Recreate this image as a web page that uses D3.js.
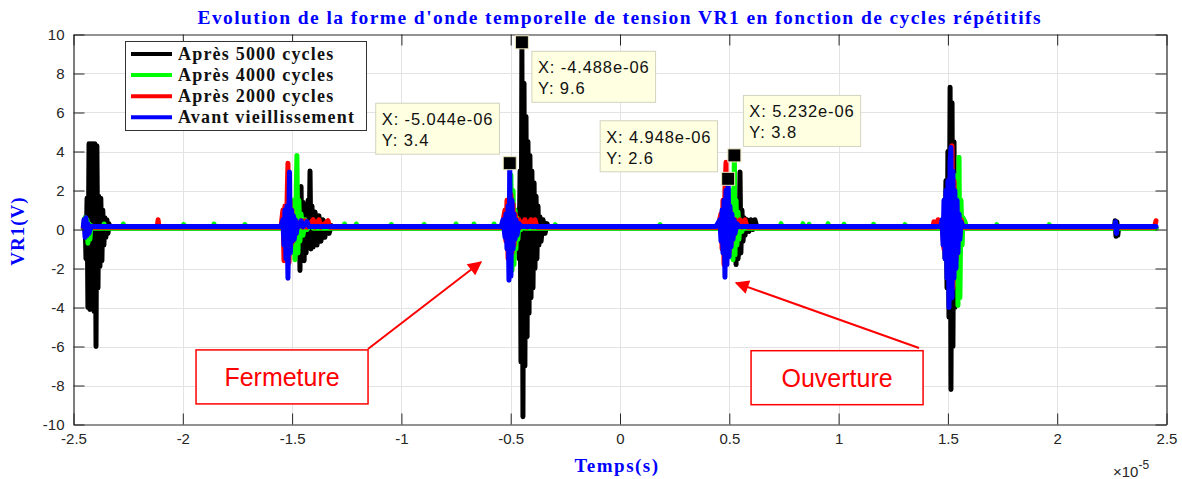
<!DOCTYPE html>
<html>
<head>
<meta charset="utf-8">
<script src="https://cdn.jsdelivr.net/npm/d3@7"></script>
<style>
  body { margin: 0; background: #fff; }
</style>
</head>
<body>
<svg id="chart" width="1182" height="479"></svg>
<script>
// time in units of 1e-5 s, voltage in V

var xTicks = [-2.5, -2, -1.5, -1, -0.5, 0, 0.5, 1, 1.5, 2, 2.5];
var yTicks = [-10, -8, -6, -4, -2, 0, 2, 4, 6, 8, 10];

var seriesNames = ["Après 5000 cycles", "Après 4000 cycles", "Après 2000 cycles", "Avant vieillissement"];

var apres5000 = [
  [-2.455,0.08],[-2.447,0.6],[-2.443,-1.5],[-2.438,1.6],[-2.434,-4.0],[-2.429,4.4],[-2.425,-4.1],[-2.420,4.4],
  [-2.416,-4.0],[-2.411,4.4],[-2.406,-4.2],[-2.402,4.4],[-2.397,-6.0],[-2.393,4.3],[-2.388,-3.0],[-2.384,1.7],
  [-2.379,-1.9],[-2.375,1.6],[-2.370,-1.6],[-2.366,1.0],[-2.361,-0.8],[-2.356,0.6],[-2.352,-0.4],[-2.347,0.5],
  [-2.342,-0.2],[-2.338,0.3],[-2.333,0.08],
  [-1.487,0.08],[-1.478,1.0],[-1.473,-0.8],[-1.469,2.0],[-1.464,-2.1],[-1.459,2.2],[-1.455,-1.6],[-1.450,1.4],
  [-1.445,-1.6],[-1.441,1.0],[-1.436,-1.2],[-1.427,1.5],[-1.423,-0.8],[-1.418,3.0],[-1.414,-1.0],[-1.409,1.2],
  [-1.404,-0.9],[-1.395,0.9],[-1.386,-0.8],[-1.377,0.7],[-1.368,-0.6],[-1.359,0.5],[-1.350,-0.4],[-1.340,0.4],
  [-1.331,-0.2],[-1.320,0.2],[-1.310,0.08],
  [-0.476,0.08],[-0.467,1.0],[-0.462,-1.5],[-0.457,3.0],[-0.453,-6.8],[-0.4488,9.6],[-0.444,-9.6],[-0.439,7.5],
  [-0.435,-7.0],[-0.430,5.8],[-0.425,-5.5],[-0.421,4.5],[-0.416,-4.3],[-0.412,3.8],[-0.407,-3.5],[-0.403,3.0],
  [-0.398,-3.0],[-0.393,2.4],[-0.389,-2.0],[-0.384,1.7],[-0.380,-1.5],[-0.375,1.2],[-0.371,-0.8],[-0.366,0.65],
  [-0.361,-0.6],[-0.352,0.5],[-0.343,-0.2],[-0.334,0.3],[-0.325,0.08],
  [0.508,0.08],[0.517,0.6],[0.522,-0.8],[0.526,1.2],[0.531,-1.8],[0.535,1.5],[0.540,-1.5],[0.544,-1.0],
  [0.549,2.95],[0.553,-1.2],[0.558,1.0],[0.563,-0.6],[0.568,0.6],[0.572,-0.3],[0.581,0.5],[0.590,-0.1],
  [0.599,0.5],[0.608,0.0],[0.617,0.5],[0.627,0.08],
  [1.473,0.08],[1.482,0.6],[1.487,-1.5],[1.491,2.5],[1.496,-3.0],[1.500,4.0],[1.505,-4.5],[1.510,7.3],
  [1.514,-8.2],[1.519,6.5],[1.523,-6.0],[1.528,4.5],[1.532,-4.0],[1.537,2.0],[1.542,-1.5],[1.546,1.0],
  [1.551,-0.6],[1.555,0.6],[1.560,-0.2],[1.569,0.08],
  [2.262,0.08],[2.265,0.45],[2.269,-0.35],[2.273,0.4],[2.277,-0.3],[2.281,0.08],[2.452,0.08]
];

var apres4000 = [
  [-2.455,0.07],[-2.447,0.6],[-2.443,-0.3],[-2.438,0.5],[-2.434,-0.7],[-2.429,0.3],[-2.425,-0.5],[-2.420,0.2],[-2.411,0.07],
  [-2.364,0.07],[-2.360,0.28],[-2.356,0.07],
  [-2.276,0.07],[-2.272,0.28],[-2.268,0.07],
  [-2.000,0.07],[-1.996,0.26],[-1.992,0.07],
  [-1.861,0.07],[-1.857,0.28],[-1.853,0.07],
  [-1.720,0.07],[-1.716,0.26],[-1.712,0.07],
  [-1.551,0.07],[-1.533,0.5],[-1.524,-0.5],[-1.514,1.0],[-1.505,-1.0],[-1.496,1.5],[-1.487,-1.55],[-1.478,3.8],
  [-1.473,-1.2],[-1.469,1.5],[-1.464,-0.6],[-1.459,0.8],[-1.450,-0.3],[-1.441,0.5],[-1.432,0.0],[-1.414,0.3],[-1.404,0.07],
  [-1.264,0.07],[-1.260,0.28],[-1.256,0.07],
  [-1.210,0.07],[-1.206,0.28],[-1.202,0.07],
  [-1.050,0.07],[-1.046,0.26],[-1.042,0.07],
  [-0.900,0.07],[-0.896,0.26],[-0.892,0.07],
  [-0.754,0.07],[-0.750,0.28],[-0.746,0.07],
  [-0.672,0.07],[-0.668,0.28],[-0.664,0.07],
  [-0.580,0.07],[-0.576,0.28],[-0.572,0.07],
  [-0.535,0.07],[-0.522,0.5],[-0.512,-0.8],[-0.508,1.5],[-0.503,-1.6],[-0.499,2.8],[-0.494,-2.1],[-0.489,2.0],
  [-0.485,-1.8],[-0.480,1.0],[-0.476,-1.0],[-0.471,0.6],[-0.467,-0.5],[-0.462,0.4],[-0.453,0.0],[-0.444,0.2],[-0.435,0.07],
  [-0.300,0.07],[-0.296,0.25],[-0.292,0.07],
  [0.180,0.07],[0.184,0.25],[0.188,0.07],
  [0.462,0.07],[0.476,0.6],[0.485,-0.8],[0.494,1.2],[0.499,-1.2],[0.503,1.8],[0.508,-1.3],[0.512,2.0],
  [0.517,-1.55],[0.5232,3.8],[0.526,-1.3],[0.531,1.5],[0.535,-0.8],[0.540,0.9],[0.544,-0.5],[0.549,0.5],
  [0.558,-0.1],[0.563,0.3],[0.572,0.07],
  [0.733,0.07],[0.737,0.3],[0.741,0.07],
  [0.833,0.07],[0.837,0.3],[0.841,0.07],
  [0.861,0.07],[0.865,0.27],[0.869,0.07],
  [0.948,0.07],[0.952,0.3],[0.956,0.07],
  [1.021,0.07],[1.025,0.27],[1.029,0.07],
  [1.156,0.07],[1.160,0.27],[1.164,0.07],
  [1.300,0.07],[1.304,0.25],[1.308,0.07],
  [1.478,0.07],[1.491,1.0],[1.500,-1.5],[1.510,2.5],[1.519,-3.0],[1.528,2.8],[1.537,-2.8],[1.542,2.5],
  [1.546,-3.9],[1.551,3.7],[1.555,-3.5],[1.560,1.5],[1.565,-0.8],[1.569,0.6],[1.578,0.4],[1.587,0.07],
  [1.720,0.07],[1.724,0.25],[1.728,0.07],
  [1.960,0.07],[1.964,0.25],[1.968,0.07],
  [2.452,0.07]
];

var apres2000 = [
  [-2.455,0.12],[-2.445,0.4],[-2.440,-0.2],[-2.436,0.12],
  [-2.117,0.12],[-2.113,0.5],[-2.109,0.12],
  [-1.551,0.12],[-1.542,1.0],[-1.537,-1.6],[-1.533,1.2],[-1.528,-1.2],[-1.524,1.0],[-1.519,3.4],[-1.514,-1.7],
  [-1.510,1.5],[-1.505,-0.8],[-1.501,1.0],[-1.496,-0.6],[-1.492,0.6],[-1.487,-0.3],[-1.482,0.4],[-1.473,0.12],
  [-1.459,0.45],[-1.450,0.12],[-1.441,0.45],[-1.432,0.12],[-1.404,0.5],[-1.395,0.12],[-1.377,0.5],[-1.368,0.12],
  [-1.336,0.45],[-1.327,0.12],
  [-0.540,0.12],[-0.526,1.0],[-0.522,-0.6],[-0.517,1.5],[-0.512,-1.5],[-0.508,1.4],[-0.503,-1.8],[-0.499,1.8],
  [-0.494,-1.2],[-0.489,1.3],[-0.485,-0.8],[-0.480,0.8],[-0.471,0.3],[-0.462,0.5],[-0.453,0.12],[-0.435,0.5],
  [-0.425,0.12],[-0.407,0.5],[-0.398,0.12],[-0.389,0.5],[-0.380,0.12],
  [0.448,0.12],[0.462,0.8],[0.467,-1.0],[0.471,1.5],[0.476,-1.8],[0.480,2.0],[0.485,3.45],[0.489,-1.5],
  [0.494,1.5],[0.499,-1.2],[0.503,1.0],[0.508,-0.8],[0.512,0.6],[0.517,-0.4],[0.526,0.5],[0.535,0.12],
  [0.549,0.5],[0.558,0.12],[0.572,0.5],[0.581,0.12],
  [1.432,0.12],[1.436,0.4],[1.440,0.12],
  [1.446,0.12],[1.455,0.5],[1.464,0.12],[1.473,0.4],[1.482,-1.0],[1.491,1.5],[1.500,-2.0],[1.505,2.5],
  [1.510,-3.5],[1.519,4.3],[1.523,-3.0],[1.528,2.5],[1.537,-1.5],[1.546,0.8],[1.555,-0.3],[1.560,0.5],[1.569,0.12],
  [2.445,0.12],[2.452,0.45]
];

var avantVieillissement = [
  [-2.455,0.15],[-2.452,0.5],[-2.447,-0.4],[-2.443,0.6],[-2.438,-0.3],[-2.434,0.3],[-2.429,-0.2],[-2.420,0.15],
  [-1.551,0.15],[-1.542,0.5],[-1.537,-0.8],[-1.533,1.0],[-1.528,-1.5],[-1.524,1.2],[-1.519,-2.5],[-1.512,2.95],
  [-1.508,-1.2],[-1.503,1.0],[-1.499,-0.6],[-1.494,0.7],[-1.490,-0.5],[-1.485,0.5],[-1.480,-0.2],[-1.476,0.3],
  [-1.469,0.15],[-1.459,0.45],[-1.450,0.15],[-1.432,0.4],[-1.423,0.15],
  [-0.544,0.15],[-0.535,0.5],[-0.526,-0.4],[-0.522,0.8],[-0.517,-1.0],[-0.512,1.2],[-0.508,-2.6],[-0.5044,3.4],
  [-0.499,-2.4],[-0.494,1.5],[-0.489,-1.0],[-0.485,0.8],[-0.480,-0.5],[-0.476,0.5],[-0.471,-0.3],[-0.462,0.3],[-0.453,0.15],
  [0.439,0.15],[0.457,0.5],[0.462,-0.6],[0.467,1.0],[0.471,-1.2],[0.476,1.5],[0.480,-2.45],[0.485,2.0],
  [0.489,-1.8],[0.4948,2.6],[0.499,-1.4],[0.503,1.2],[0.508,-0.9],[0.512,0.8],[0.517,-0.5],[0.522,0.5],
  [0.526,-0.2],[0.535,0.3],[0.544,0.15],
  [1.468,0.15],[1.473,0.5],[1.478,-0.8],[1.482,1.5],[1.487,-1.5],[1.491,2.0],[1.496,-2.5],[1.500,2.5],
  [1.505,-4.0],[1.510,3.5],[1.514,4.2],[1.519,-3.5],[1.523,3.0],[1.528,-2.5],[1.532,2.0],[1.537,-2.0],
  [1.542,1.5],[1.546,-1.2],[1.551,0.8],[1.555,-0.5],[1.560,0.4],[1.569,0.15],
  [2.264,0.15],[2.267,0.4],[2.271,-0.2],[2.275,0.15],
  [2.452,0.15]
];

// data cursors (seconds, volts)
var cursorT = [-5.044e-6, -4.488e-6, 4.948e-6, 5.232e-6];
var cursorV = [3.4, 9.6, 2.6, 3.8];

var annotLabels = ["Fermeture", "Ouverture"];

var colors = ["#000000", "#00ff00", "#ff0000", "#0000ff"];
var allSeries = [apres5000, apres4000, apres2000, avantVieillissement];

var sans = "'Liberation Sans', Arial, sans-serif";
var serif = "'Liberation Serif', 'Times New Roman', serif";

var svg = d3.select("#chart").attr("font-family", sans);

var x = d3.scaleLinear().domain([-2.5, 2.5]).range([73.5, 1166.5]);
var y = d3.scaleLinear().domain([-10, 10]).range([424.5, 34.5]);

var axisColor = "#262626";

// grid
var grid = svg.append("g").attr("stroke", "#e3e3e3").attr("stroke-width", 1);
grid.selectAll(".gx").data(xTicks.slice(1, -1)).join("line")
  .attr("x1", d => Math.round(x(d)) + 0.5).attr("x2", d => Math.round(x(d)) + 0.5)
  .attr("y1", y(10)).attr("y2", y(-10));
grid.selectAll(".gy").data(yTicks.slice(1, -1)).join("line")
  .attr("x1", x(-2.5)).attr("x2", x(2.5))
  .attr("y1", d => Math.round(y(d)) + 0.5).attr("y2", d => Math.round(y(d)) + 0.5);

// signals
svg.append("clipPath").attr("id", "plotclip").append("rect")
  .attr("x", x(-2.5)).attr("y", y(10))
  .attr("width", x(2.5) - x(-2.5)).attr("height", y(-10) - y(10));

var line = d3.line().x(d => x(d[0])).y(d => y(d[1]));

svg.append("g").attr("clip-path", "url(#plotclip)")
  .selectAll("path").data(allSeries).join("path")
  .attr("d", line)
  .attr("fill", "none")
  .attr("stroke", (d, i) => colors[i])
  .attr("stroke-width", 5)
  .attr("stroke-linejoin", "round")
  .attr("stroke-linecap", "round");

// axes (box on, ticks inside)
function styleAxis(g) {
  g.selectAll("path, line").attr("stroke", axisColor);
  g.selectAll("text").attr("fill", axisColor)
    .attr("font-family", sans).attr("font-size", 15);
}
var fmt = d => String(d);

svg.append("g").attr("transform", "translate(0," + y(-10) + ")")
  .call(d3.axisBottom(x).tickValues(xTicks).tickFormat(fmt).tickSize(-11).tickSizeOuter(0).tickPadding(9))
  .call(styleAxis);
svg.append("g").attr("transform", "translate(0," + y(10) + ")")
  .call(d3.axisTop(x).tickValues(xTicks).tickFormat("").tickSize(-11).tickSizeOuter(0))
  .call(styleAxis);
svg.append("g").attr("transform", "translate(" + x(-2.5) + ",0)")
  .call(d3.axisLeft(y).tickValues(yTicks).tickFormat(fmt).tickSize(-11).tickSizeOuter(0).tickPadding(9))
  .call(styleAxis);
svg.append("g").attr("transform", "translate(" + x(2.5) + ",0)")
  .call(d3.axisRight(y).tickValues(yTicks).tickFormat("").tickSize(-11).tickSizeOuter(0))
  .call(styleAxis);
svg.selectAll(".domain").attr("stroke-width", 1.2);

// exponent label
var expo = svg.append("text").attr("x", 1113).attr("y", 477)
  .attr("fill", axisColor).attr("font-size", 15);
expo.append("tspan").text("×10");
expo.append("tspan").attr("dy", -8).attr("font-size", 12).text("-5");

// titles
svg.append("text").attr("x", 619).attr("y", 24)
  .attr("text-anchor", "middle").attr("font-family", serif).attr("font-weight", "bold")
  .attr("font-size", 19.5).attr("fill", "#0000ff")
  .attr("textLength", 843).attr("lengthAdjust", "spacing")
  .text("Evolution de la forme d'onde temporelle de tension VR1 en fonction de cycles répétitifs");
svg.append("text").attr("x", 617).attr("y", 472)
  .attr("text-anchor", "middle").attr("font-family", serif).attr("font-weight", "bold")
  .attr("font-size", 19).attr("letter-spacing", 1.5).attr("fill", "#0000ff").text("Temps(s)");
svg.append("text").attr("transform", "translate(24,231) rotate(-90)")
  .attr("text-anchor", "middle").attr("font-family", serif).attr("font-weight", "bold")
  .attr("font-size", 19).attr("letter-spacing", 1).attr("fill", "#0000ff").text("VR1(V)");

// legend
var legend = svg.append("g").attr("transform", "translate(125,41)");
legend.append("rect").attr("x", 0.5).attr("y", 0.5).attr("width", 241).attr("height", 89)
  .attr("fill", "#fff").attr("stroke", "#333").attr("stroke-width", 1);
var rows = legend.selectAll(".row").data(seriesNames).join("g")
  .attr("transform", (d, i) => "translate(0," + (13 + i * 21.1) + ")");
rows.append("line").attr("x1", 6).attr("x2", 47)
  .attr("stroke", (d, i) => colors[i]).attr("stroke-width", 4);
rows.append("text").attr("x", 53).attr("y", 6)
  .attr("font-family", serif).attr("font-weight", "bold").attr("font-size", 18)
  .attr("letter-spacing", 1.2).attr("fill", "#111").text(d => d);

// data cursors
function sci(v) {
  return v.toExponential(3).replace(/e([+-])(\d)$/, "e$10$2");
}
var tipOffset = [[-134, -60], [10, 9], [-128, -58], [9, -60]];
var tips = svg.append("g").selectAll("g").data(cursorT).join("g")
  .attr("transform", (d, i) => "translate(" + x(d * 1e5) + "," + y(cursorV[i]) + ")");
tips.each(function(d, i) {
  var g = d3.select(this);
  var box = g.append("g").attr("transform", "translate(" + tipOffset[i][0] + "," + tipOffset[i][1] + ")");
  var r = box.append("rect").attr("height", 51)
    .attr("fill", "#ffffe1").attr("stroke", "#d2d2c0").attr("stroke-width", 1);
  var t1 = box.append("text").attr("x", 6).attr("y", 22).attr("font-size", 16.5)
    .attr("letter-spacing", 0.9).attr("fill", "#111")
    .text("X: " + sci(d));
  box.append("text").attr("x", 6).attr("y", 43).attr("font-size", 16.5)
    .attr("letter-spacing", 0.9).attr("fill", "#111")
    .text("Y: " + cursorV[i]);
  r.attr("width", t1.node().getComputedTextLength() + 12);
  g.append("rect").attr("x", -6.5).attr("y", -6.5).attr("width", 13).attr("height", 13)
    .attr("fill", "#000").attr("stroke", "#efe8c0").attr("stroke-width", 1);
});

// annotations
var annotBox = [[-1.546, -7.56], [0.993, -7.6]];
var arrowFrom = [[-1.153, -6.13], [1.368, -6.08]];
var arrowTo = [[-0.636, -1.67], [0.531, -2.74]];

svg.append("defs").append("marker").attr("id", "ahead")
  .attr("viewBox", "0 0 10 10").attr("refX", 9).attr("refY", 5)
  .attr("markerWidth", 8).attr("markerHeight", 7).attr("markerUnits", "strokeWidth")
  .attr("orient", "auto")
  .append("path").attr("d", "M0,0 L10,5 L0,10 z").attr("fill", "#ff0000");

svg.append("g").selectAll("line").data(annotLabels).join("line")
  .attr("x1", (d, i) => x(arrowFrom[i][0])).attr("y1", (d, i) => y(arrowFrom[i][1]))
  .attr("x2", (d, i) => x(arrowTo[i][0])).attr("y2", (d, i) => y(arrowTo[i][1]))
  .attr("stroke", "#ff0000").attr("stroke-width", 2).attr("marker-end", "url(#ahead)");

var ann = svg.append("g").selectAll("g").data(annotLabels).join("g")
  .attr("transform", (d, i) => "translate(" + x(annotBox[i][0]) + "," + y(annotBox[i][1]) + ")");
ann.append("rect").attr("x", -86).attr("y", -27).attr("width", 172).attr("height", 54)
  .attr("fill", "#fff").attr("stroke", "#ff0000").attr("stroke-width", 1.5);
ann.append("text").attr("text-anchor", "middle").attr("y", 9)
  .attr("font-size", 25).attr("fill", "#ff0000").text(d => d);
</script>
</body>
</html>
